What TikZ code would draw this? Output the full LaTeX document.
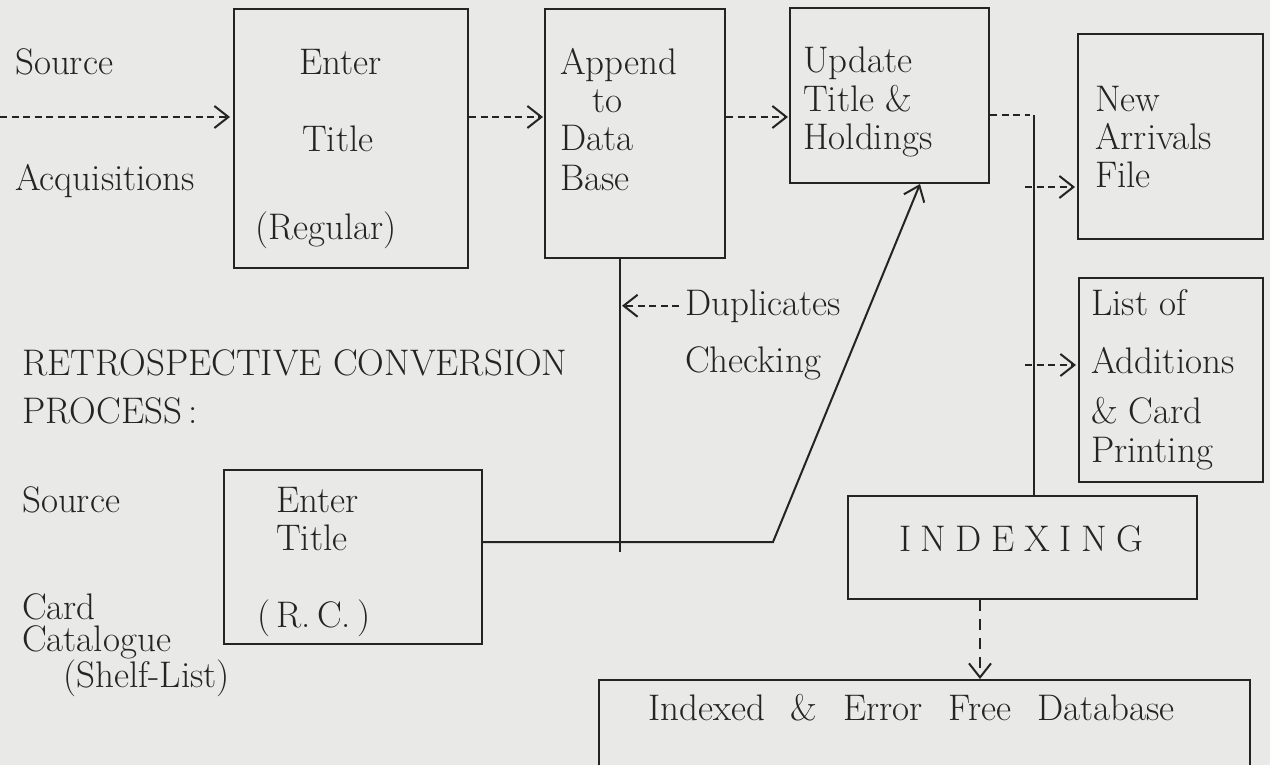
\documentclass[tikz,border=0pt]{standalone}
\usetikzlibrary{arrows.meta}
\definecolor{paper}{HTML}{E9E9E7}
\definecolor{ink}{HTML}{242424}
\tikzset{
  box/.style={draw=ink,line width=2pt,inner sep=0pt},
  lbl/.style={anchor=base west,inner sep=0pt,text=ink,font=\fontsize{37}{40}\selectfont},
  wire/.style={draw=ink,line width=2pt},
  flow/.style={wire,-{Straight Barb[length=14pt,width=22pt,line width=2pt]}},
  dashwire/.style={wire,dash pattern=on 7pt off 4.5pt},
  dashflow/.style={flow,dash pattern=on 7pt off 4.5pt},
}

\begin{document}
\begin{tikzpicture}[x=1pt,y=-1pt]
    \clip (0,0) rectangle (1270,765);
    \fill[paper] (0,0) rectangle (1270,765);

    % boxes
    \node[box,minimum width=234pt,minimum height=259pt] (enterA) at (351,138.5) {};
    \node[box,minimum width=180pt,minimum height=249pt] (append) at (635,133.5) {};
    \node[box,minimum width=199pt,minimum height=175pt] (update) at (889.5,95.5) {};
    \node[box,minimum width=185pt,minimum height=205pt] (newArr) at (1170.5,136.5) {};
    \node[box,minimum width=184pt,minimum height=204pt] (listAdd) at (1171,380) {};
    \node[box,minimum width=349pt,minimum height=103pt] (index) at (1022.5,547.5) {};
    \node[box,minimum width=258pt,minimum height=174pt] (enterB) at (353,557) {};
    \node[box,minimum width=651pt,minimum height=160pt] (idxDb) at (924.5,760) {};

    % texts
    \node[lbl] (srcA) at (15,75) {Source};
    \node[lbl] (acq) at (15,190) {Acquisitions};
    \node[lbl] (eaA) at (299,75) {Enter};
    \node[lbl] (eaB) at (302,152) {Title};
    \node[lbl] (eaC) at (255,240) {(Regular)};
    \node[lbl] (apA) at (560,75) {Append};
    \node[lbl] (apB) at (592,113) {to};
    \node[lbl] (apC) at (560,151) {Data};
    \node[lbl] (apD) at (560,190) {Base};
    \node[lbl] (upA) at (803,73) {Update};
    \node[lbl] (upB) at (803,112) {Title \&};
    \node[lbl] (upC) at (803,150) {Holdings};
    \node[lbl] (naA) at (1095,112) {New};
    \node[lbl] (naB) at (1095,150) {Arrivals};
    \node[lbl] (naC) at (1095,188) {File};
    \node[lbl] (laA) at (1091,315) {List of};
    \node[lbl] (laB) at (1091,373) {Additions};
    \node[lbl] (laC) at (1091,423) {\& Card};
    \node[lbl] (laD) at (1091,462) {Printing};
    \node[lbl] (dup) at (685,315) {Duplicates};
    \node[lbl] (chk) at (685,372) {Checking};
    \node[lbl] (retro) at (22,375) {RETROSPECTIVE\hspace{0.3em}CONVERSION};
    \node[lbl] (proc) at (22,423) {PROCESS\,:};
    \node[lbl] (srcB) at (22,512) {Source};
    \node[lbl,anchor=north west,align=left,font=\fontsize{37}{32.5}\selectfont] (cardCat) at (22,593)
      {Card\\Catalogue\\\hspace{41pt}(Shelf-List)};
    \node[lbl] (ebA) at (276,512) {Enter};
    \node[lbl] (ebB) at (276,550) {Title};
    \node[lbl] (ebC) at (257,627) {(\,R.\,C.\,)};
    \node[lbl] (idxT) at (899,551) {I\kern9.5pt N\kern9.5pt D\kern9.5pt E\kern9.5pt X\kern9.5pt I\kern9.5pt N\kern9.5pt G};
    \node[lbl] (dbT) at (648,720) {Indexed\hspace{0.7em}\&\hspace{0.7em}Error\hspace{0.7em}Free\hspace{0.7em}Database};

    % connectors
    \coordinate (inA) at (0,117);
    \coordinate (busTop) at (1034,115);
    \coordinate (brA) at (1025,187);
    \coordinate (brB) at (1025,365);
    \coordinate (junc) at (620,542);
    \coordinate (bend) at (773,542);
    \coordinate (upTip) at (920,0);
    \coordinate (dn) at (980,0);
    \draw[dashflow,shorten >=3pt] (inA) -- (inA -| enterA.west);
    \draw[dashflow,shorten >=1pt] (enterA.east |- inA) -- (inA -| append.west);
    \draw[dashflow,shorten >=1pt] (append.east |- inA) -- (inA -| update.west);
    \draw[dashwire,shorten >=4pt] (update.east |- busTop) -- (busTop);
    \draw[wire] (busTop) -- (busTop |- index.north);
    \draw[dashflow,shorten >=2pt] (brA) -- (brA -| newArr.west);
    \draw[dashflow,shorten >=2pt] (brB) -- (brB -| listAdd.west);
    \draw[wire] (append.south -| junc) -- (junc) -- ++(0,10);
    \draw[flow] (enterB.east |- junc) -- (bend) -- (update.south -| upTip);
    \draw[dashflow,shorten >=2pt] ([xshift=-6pt]dup.west) -- (dup.west -| junc);
    \draw[flow,dash pattern=on 11pt off 8pt] (index.south -| dn) -- (idxDb.north -| dn);
\end{tikzpicture}
\end{document}
